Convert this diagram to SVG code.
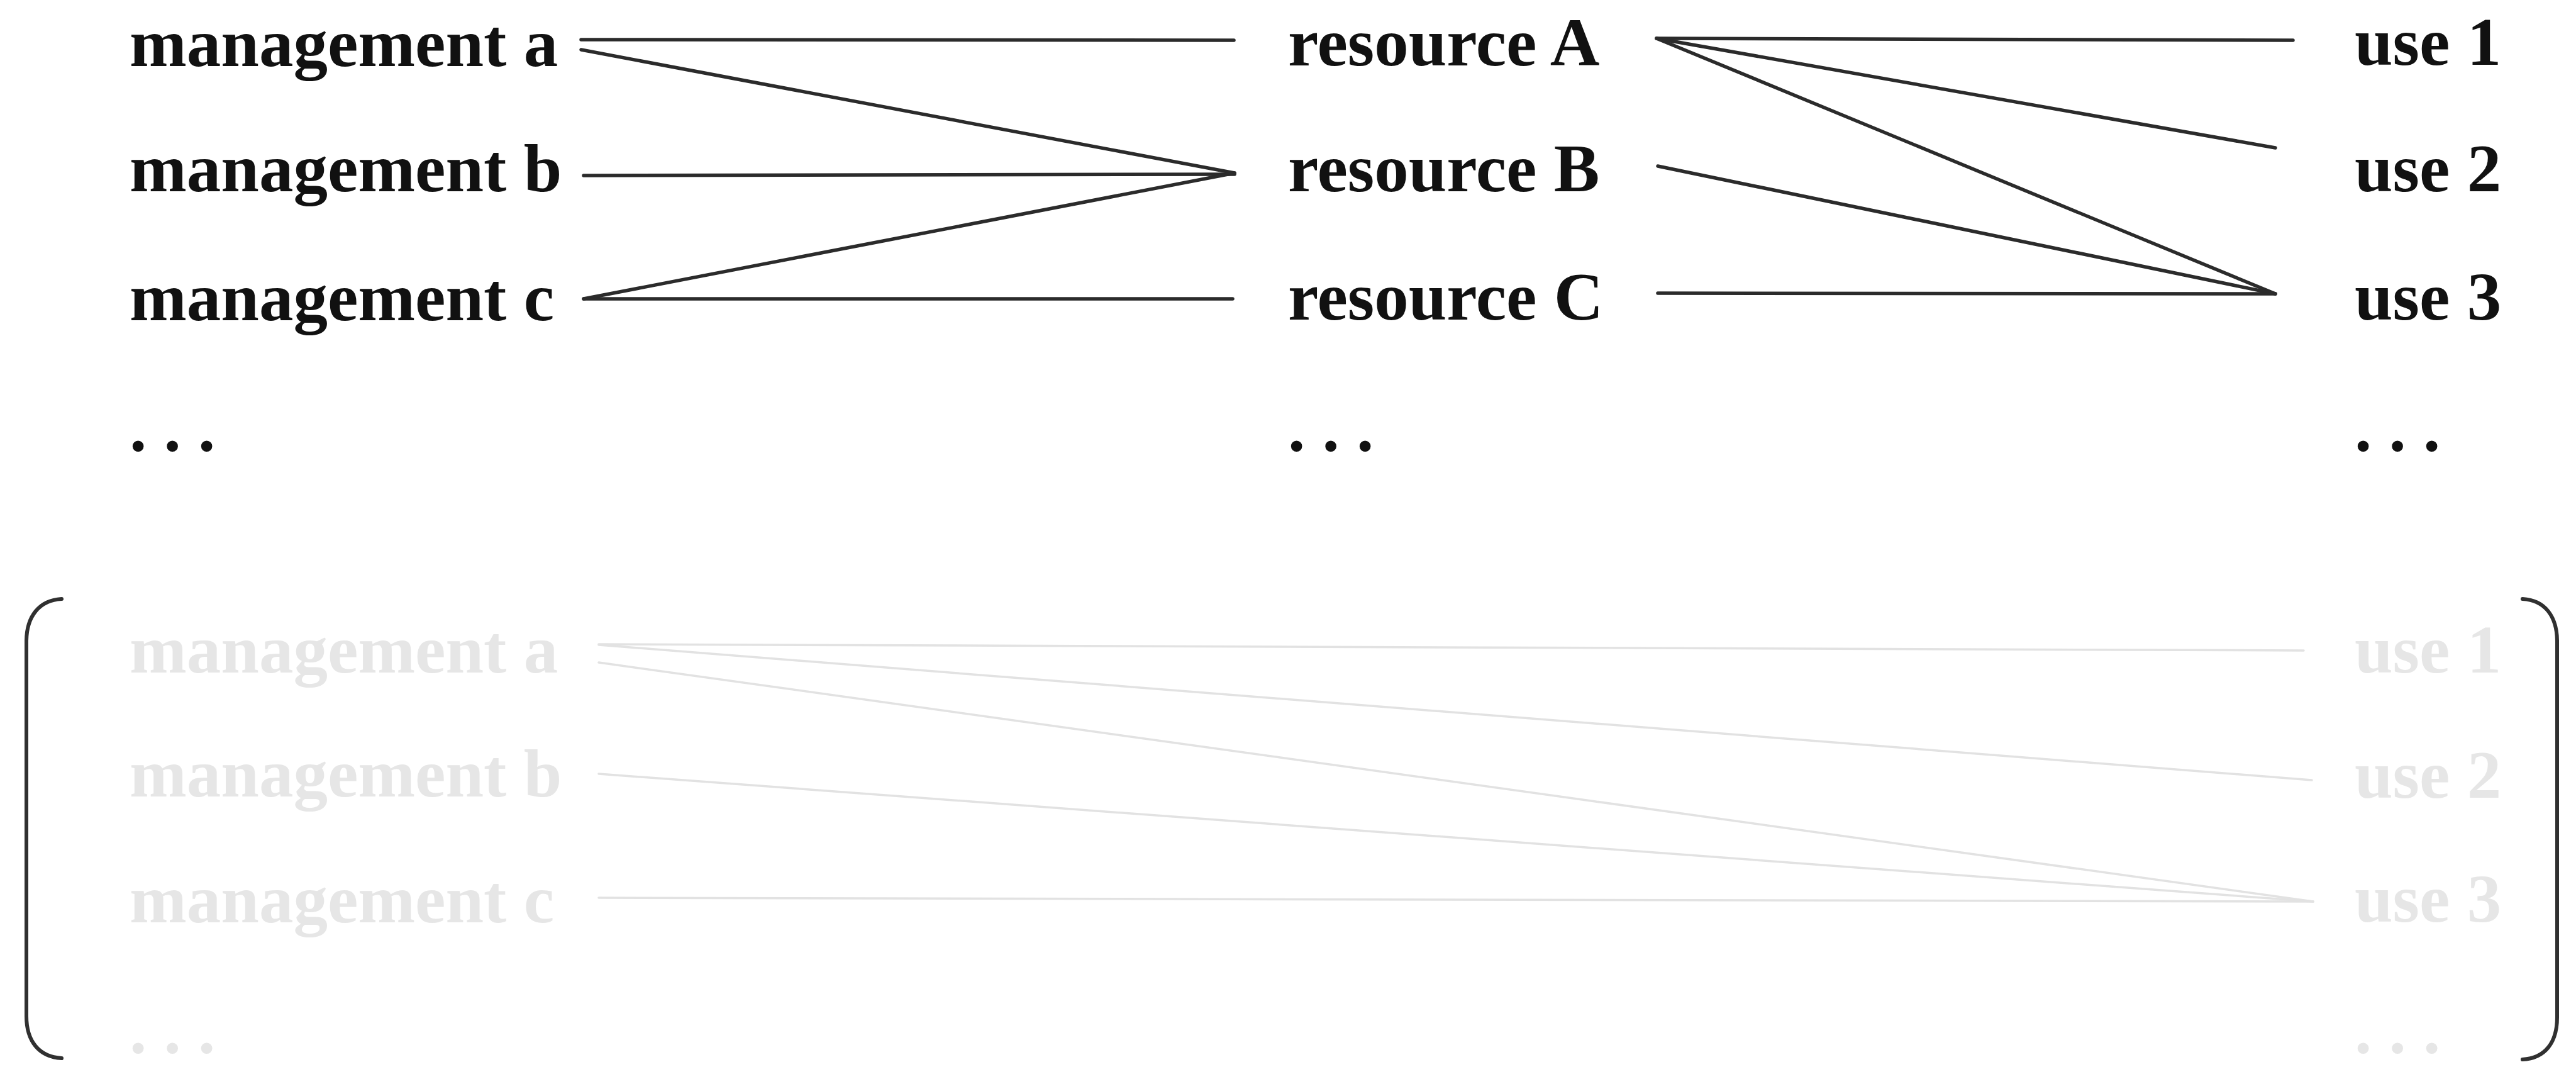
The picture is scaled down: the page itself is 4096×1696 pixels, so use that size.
<svg xmlns="http://www.w3.org/2000/svg" width="4096" height="1696" viewBox="0 0 4096 1696">
  <style>
    .lbl { font-family: "Liberation Serif", "Times New Roman", serif; font-weight: bold; font-size: 109px; fill: #111; }
    .faint { fill: #e6e6e6; }
    .edge { stroke: #2b2b2b; stroke-width: 5.5; stroke-linecap: round; fill: none; }
    .edge-faint { stroke: #e2e2e2; stroke-width: 3.5; stroke-linecap: round; fill: none; }
    .bracket { stroke: #303030; stroke-width: 6; stroke-linecap: round; fill: none; }
  </style>
  <rect width="4096" height="1696" fill="#ffffff"/>

  <!-- upper mapping: management -> resource -> use -->
  <g id="mgmt-a"><text class="lbl" x="206" y="105">management a</text></g>
  <g id="mgmt-b"><text class="lbl" x="206" y="304">management b</text></g>
  <g id="mgmt-c"><text class="lbl" x="206" y="509">management c</text></g>
  <g id="mgmt-more"><text class="lbl" x="206" y="716">. . .</text></g>

  <g id="res-A"><text class="lbl" x="2048" y="104">resource A</text></g>
  <g id="res-B"><text class="lbl" x="2048" y="304">resource B</text></g>
  <g id="res-C"><text class="lbl" x="2048" y="508">resource C</text></g>
  <g id="res-more"><text class="lbl" x="2048" y="716">. . .</text></g>

  <g id="use-1"><text class="lbl" x="3744" y="103">use 1</text></g>
  <g id="use-2"><text class="lbl" x="3744" y="304">use 2</text></g>
  <g id="use-3"><text class="lbl" x="3744" y="508">use 3</text></g>
  <g id="use-more"><text class="lbl" x="3744" y="716">. . .</text></g>

  <g id="connectors">
    <line class="edge" x1="924" y1="63" x2="1962" y2="64"/>
    <line class="edge" x1="924" y1="79" x2="1963" y2="275"/>
    <line class="edge" x1="928" y1="279" x2="1963" y2="277"/>
    <line class="edge" x1="928" y1="475" x2="1963" y2="275"/>
    <line class="edge" x1="928" y1="475" x2="1960" y2="475"/>

    <line class="edge" x1="2634" y1="61" x2="3646" y2="64"/>
    <line class="edge" x1="2634" y1="61" x2="3618" y2="235"/>
    <line class="edge" x1="2634" y1="61" x2="3618" y2="467"/>
    <line class="edge" x1="2636" y1="264" x2="3618" y2="467"/>
    <line class="edge" x1="2636" y1="466" x2="3618" y2="467"/>
  </g>

  <!-- lower, faded composite mapping: management -> use -->
  <g id="composite">
    <g id="c-mgmt-a"><text class="lbl faint" x="206" y="1069">management a</text></g>
    <g id="c-mgmt-b"><text class="lbl faint" x="206" y="1266">management b</text></g>
    <g id="c-mgmt-c"><text class="lbl faint" x="206" y="1466">management c</text></g>
    <g id="c-mgmt-more"><text class="lbl faint" x="206" y="1673">. . .</text></g>

    <g id="c-use-1"><text class="lbl faint" x="3744" y="1069">use 1</text></g>
    <g id="c-use-2"><text class="lbl faint" x="3744" y="1268">use 2</text></g>
    <g id="c-use-3"><text class="lbl faint" x="3744" y="1465">use 3</text></g>
    <g id="c-use-more"><text class="lbl faint" x="3744" y="1673">. . .</text></g>

    <g id="c-connectors">
      <line class="edge-faint" x1="952" y1="1024" x2="3663" y2="1034"/>
      <line class="edge-faint" x1="952" y1="1025" x2="3676" y2="1240"/>
      <line class="edge-faint" x1="952" y1="1053" x2="3678" y2="1433"/>
      <line class="edge-faint" x1="952" y1="1230" x2="3678" y2="1433"/>
      <line class="edge-faint" x1="952" y1="1427" x2="3678" y2="1433"/>
    </g>

    <path id="bracket-left" class="bracket" d="M 98 952 C 62 954, 42 980, 42 1020 L 42 1615 C 42 1655, 62 1680, 98 1682"/>
    <path id="bracket-right" class="bracket" d="M 4011 952 C 4047 954, 4066 980, 4066 1020 L 4066 1617 C 4066 1657, 4047 1682, 4011 1684"/>
  </g>
</svg>
